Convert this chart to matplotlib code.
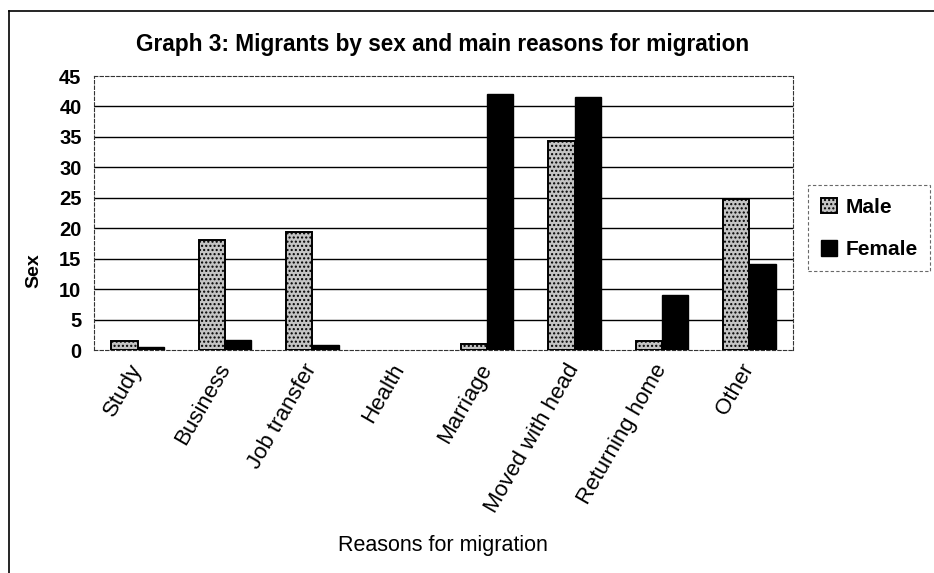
import numpy as np
import matplotlib.pyplot as plt
from matplotlib.lines import Line2D

plt.rcParams['font.family'] = ['Liberation Sans', 'DejaVu Sans']
plt.rcParams['hatch.color'] = '#444444'

reasons = ["Study", "Business", "Job transfer", "Health", "Marriage",
           "Moved with head", "Returning home", "Other"]
male = [1.5, 18.0, 19.4, 0.0, 1.0, 34.3, 1.4, 24.8]
female = [0.5, 1.6, 0.9, 0.0, 42.0, 41.6, 9.0, 14.2]
yticks = [0, 5, 10, 15, 20, 25, 30, 35, 40, 45]

fig = plt.figure(figsize=(9.34, 5.73), dpi=100)
ax = fig.add_axes([94 / 934, 1 - 350 / 573, 699 / 934, 274 / 573])

x = np.arange(len(reasons)) + 0.5
w = 0.3
mb = ax.bar(x - w / 2, male, w, color='#c4c4c4', edgecolor='black',
            linewidth=1.4, hatch='....', label='Male', zorder=3)
fb = ax.bar(x + w / 2, female, w, color='black', edgecolor='black',
            linewidth=1.0, label='Female', zorder=3)
# empty categories get no outline
for b in list(mb) + list(fb):
    if b.get_height() == 0:
        b.set_visible(False)

ax.set_xlim(0, len(reasons))
ax.set_ylim(0, 45)
ax.set_yticks(yticks)
ax.set_yticklabels([str(t) for t in yticks], fontsize=14.5, fontweight='bold')
ax.tick_params(axis='y', length=0, pad=9)
ax.tick_params(axis='x', length=0, pad=11)
ax.set_xticks(x)
ax.set_xticklabels(reasons, rotation=60, ha='right', va='center',
                   rotation_mode='anchor', fontsize=16)

# solid gridlines, dashed frame
for t in yticks[1:-1]:
    ax.axhline(t, color='black', linewidth=1.0, zorder=1)
for side in ['top', 'bottom', 'left', 'right']:
    ax.spines[side].set_linestyle((0, (3, 2)))
    ax.spines[side].set_linewidth(0.8)
    ax.spines[side].set_color('#333333')

ax.set_ylabel('Sex', fontsize=14, fontweight='bold')
ax.yaxis.set_label_coords(-0.074, 0.29)
fig.text(443 / 934, 1 - 546 / 573, 'Reasons for migration', fontsize=15.5,
         ha='center', va='center')
fig.text(443 / 934, 1 - 45 / 573,
         'Graph 3: Migrants by sex and main reasons for migration',
         fontsize=16.3, fontweight='bold', ha='center', va='center')

leg = ax.legend(loc='upper left', bbox_to_anchor=(808 / 934, 1 - 185 / 573),
                bbox_transform=fig.transFigure, prop={'size': 15, 'weight': 'bold'},
                fancybox=False, edgecolor='#444444', handlelength=0.8,
                handleheight=0.8, handletextpad=0.4, labelspacing=1.1,
                borderpad=0.6, borderaxespad=0)
leg.get_frame().set_linestyle((0, (3, 2)))
leg.get_frame().set_linewidth(0.8)

# outer page frame
fig.add_artist(Line2D([9 / 934, 9 / 934], [0, 1 - 11 / 573],
                      transform=fig.transFigure, color='black', linewidth=1.2))
fig.add_artist(Line2D([9 / 934, 1], [1 - 11 / 573, 1 - 11 / 573],
                      transform=fig.transFigure, color='black', linewidth=1.2))

fig.savefig('out.png', dpi=100)
